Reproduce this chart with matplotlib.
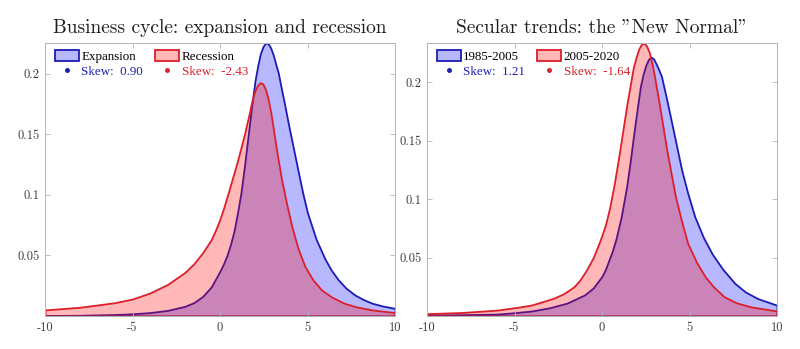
import numpy as np
import matplotlib
matplotlib.use("Agg")
import matplotlib.pyplot as plt
from matplotlib.lines import Line2D
from matplotlib.patches import Patch

plt.rcParams['font.family'] = ['cmr10', 'DejaVu Serif']
plt.rcParams['axes.unicode_minus'] = False
plt.rcParams['axes.formatter.use_mathtext'] = True

# left panel: business cycle
bc_exp_x = [-10, -8, -6, -5, -4, -3, -2, -1.5, -1, -0.5, 0, 0.2, 0.4, 0.6, 0.8, 1.0, 1.2, 1.4, 1.6,
            1.8, 2.0, 2.15, 2.3, 2.45, 2.6, 2.75, 2.9, 3.05, 3.2, 3.33, 3.5, 3.7, 3.9, 4.2, 4.5, 4.75,
            5.0, 5.5, 6.0, 6.35, 6.75, 7.2, 7.7, 8.2, 8.7, 9.3, 10]
bc_exp_y = [0.0003, 0.0006, 0.0012, 0.0018, 0.0028, 0.0046, 0.0080, 0.0110, 0.0160, 0.0240, 0.0370,
            0.0430, 0.0500, 0.0590, 0.0700, 0.0850, 0.1020, 0.1240, 0.1480, 0.1720, 0.1940, 0.2060,
            0.2160, 0.2220, 0.2252, 0.2248, 0.2210, 0.2150, 0.2070, 0.2005, 0.1880, 0.1740, 0.1590,
            0.1380, 0.1170, 0.1000, 0.0850, 0.0630, 0.0470, 0.0380, 0.0300, 0.0230, 0.0174, 0.0135,
            0.0105, 0.0082, 0.0063]
bc_rec_x = [-10, -8, -6, -5, -4, -3, -2, -1.5, -1, -0.5, -0.25, 0, 0.25, 0.5, 0.75, 1.0, 1.2, 1.4,
            1.7, 1.85, 2.0, 2.15, 2.3, 2.45, 2.6, 2.75, 2.9, 3.0, 3.14, 3.3, 3.5, 3.8, 4.1, 4.45, 4.85,
            5.3, 5.8, 6.4, 7.1, 7.8, 8.7, 10]
bc_rec_y = [0.0050, 0.0072, 0.0110, 0.0140, 0.0190, 0.0260, 0.0360, 0.0430, 0.0520, 0.0630, 0.0710,
            0.0800, 0.0910, 0.1030, 0.1155, 0.1280, 0.1390, 0.1500, 0.1690, 0.1790, 0.1860, 0.1905,
            0.1925, 0.1915, 0.1870, 0.1790, 0.1680, 0.1590, 0.1455, 0.1310, 0.1140, 0.0930, 0.0740,
            0.0560, 0.0410, 0.0300, 0.0215, 0.0155, 0.0105, 0.0075, 0.0050, 0.0028]

# right panel: secular trends
st_old_x = [-10, -8, -6, -5, -4, -3, -2, -1, -0.5, 0, 0.2, 0.4, 0.6, 0.8, 1.1, 1.4, 1.6, 1.8, 2.0,
            2.2, 2.35, 2.5, 2.65, 2.8, 2.95, 3.1, 3.25, 3.4, 3.7, 4.0, 4.55, 4.9, 5.3, 5.8, 6.3, 6.9,
            7.6, 8.2, 8.9, 10]
st_old_y = [0.0008, 0.0011, 0.0016, 0.0028, 0.0043, 0.0070, 0.0110, 0.0180, 0.0240, 0.0340, 0.0400,
            0.0480, 0.0560, 0.0660, 0.0850, 0.1100, 0.1310, 0.1540, 0.1760, 0.1970, 0.2070, 0.2145,
            0.2195, 0.2216, 0.2200, 0.2155, 0.2105, 0.2050, 0.1850, 0.1640, 0.1250, 0.1050, 0.0850,
            0.0670, 0.0530, 0.0400, 0.0278, 0.0205, 0.0149, 0.0092]
st_new_x = [-10, -8, -6, -4.7, -4, -2.8, -2.2, -1.6, -1.25, -0.9, -0.5, -0.1, 0.2, 0.45, 0.7, 1.0,
            1.4, 1.8, 1.95, 2.1, 2.25, 2.4, 2.55, 2.7, 2.85, 3.0, 3.15, 3.3, 3.7, 4.2, 4.55, 4.9, 5.4,
            5.9, 6.4, 7.0, 7.7, 8.55, 10]
st_new_y = [0.0020, 0.0030, 0.0050, 0.0077, 0.0095, 0.0150, 0.0190, 0.0250, 0.0310, 0.0390, 0.0500,
            0.0650, 0.0780, 0.0935, 0.1130, 0.1400, 0.1790, 0.2135, 0.2215, 0.2285, 0.2325, 0.2336,
            0.2310, 0.2255, 0.2165, 0.2050, 0.1920, 0.1790, 0.1420, 0.1020, 0.0810, 0.0620, 0.0460,
            0.0335, 0.0245, 0.0163, 0.0112, 0.0077, 0.0043]

titles = ["Business cycle: expansion and recession", 'Secular trends: the "New Normal"']
labels_left = ["Expansion", "Recession"]
labels_right = ["1985-2005", "2005-2020"]
skews_left = ["0.90", "-2.43"]
skews_right = ["1.21", "-1.64"]
x_ticks = [-10, -5, 0, 5, 10]
y_ticks = [0.05, 0.1, 0.15, 0.2]

BLUE_LINE = '#1c1cb4'
RED_LINE = '#dc1f2a'
BLUE_FILL = (0.0, 0.0, 1.0, 0.28)
RED_FILL = (1.0, 0.0, 0.0, 0.28)
AX_GRAY = '#b4b4b4'


def draw_panel(ax, xb, yb, xr, yr, title, labels, skews):
    ax.fill_between(xb, yb, 0, facecolor=BLUE_FILL, edgecolor=BLUE_LINE, linewidth=1.3,
                    joinstyle='round')
    ax.fill_between(xr, yr, 0, facecolor=RED_FILL, edgecolor=RED_LINE, linewidth=1.3,
                    joinstyle='round')
    ax.set_xlim(-10, 10)
    ax.set_ylim(0, max(max(yb), max(yr)))
    ax.set_xticks(x_ticks)
    ax.set_xticklabels([str(t) for t in x_ticks])
    ax.set_yticks(y_ticks)
    ax.set_yticklabels([f"{t:g}" for t in y_ticks])
    ax.tick_params(direction='in', top=True, right=True, length=3.5, width=0.6,
                   color=AX_GRAY, labelcolor='#3c3c3c', labelsize=9, pad=4)
    for sp in ax.spines.values():
        sp.set_color(AX_GRAY)
        sp.set_linewidth(0.7)
    ax.set_title(title, fontsize=14, color='#1e1e1e', pad=7)

    # legend: ncol=2 fills column-wise
    handles = [Patch(facecolor=BLUE_FILL, edgecolor=BLUE_LINE, linewidth=1.3),
               Line2D([], [], ls='none', marker='.', markersize=5, color=BLUE_LINE),
               Patch(facecolor=RED_FILL, edgecolor=RED_LINE, linewidth=1.3),
               Line2D([], [], ls='none', marker='.', markersize=5, color=RED_LINE)]
    texts = [labels[0], f"Skew:  {skews[0]}", labels[1], f"Skew:  {skews[1]}"]
    leg = ax.legend(handles, texts, ncol=2, loc='upper left', bbox_to_anchor=(0.02, 0.985),
                    frameon=False, prop={'family': 'Liberation Serif', 'size': 9.4},
                    handlelength=1.85, handleheight=0.9, handletextpad=0.2,
                    columnspacing=0.9, labelspacing=0.15, borderpad=0.2, borderaxespad=0)
    colors = ['black', BLUE_LINE, 'black', RED_LINE]
    for t, c in zip(leg.get_texts(), colors):
        t.set_color(c)


fig = plt.figure(figsize=(8, 3.49), dpi=100)
ax1 = fig.add_axes([0.05625, 0.0946, 0.4375, 0.7822])
ax2 = fig.add_axes([0.53375, 0.0946, 0.4375, 0.7822])

draw_panel(ax1, bc_exp_x, bc_exp_y, bc_rec_x, bc_rec_y, titles[0], labels_left, skews_left)
draw_panel(ax2, st_old_x, st_old_y, st_new_x, st_new_y, titles[1], labels_right, skews_right)

fig.savefig("out.png", dpi=100)
plt.close(fig)
